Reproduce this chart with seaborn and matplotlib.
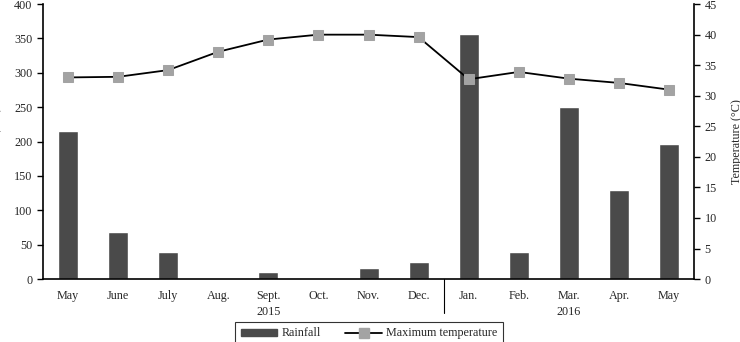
import matplotlib
matplotlib.use("Agg")
import matplotlib.pyplot as plt
import matplotlib.transforms as mtransforms
from matplotlib.patches import Patch
from matplotlib.lines import Line2D
import numpy as np
import pandas as pd
import seaborn as sns

# monthly data, May 2015 - May 2016
month_keys = ["May-15", "Jun-15", "Jul-15", "Aug-15", "Sep-15", "Oct-15", "Nov-15",
              "Dec-15", "Jan-16", "Feb-16", "Mar-16", "Apr-16", "May-16"]
month_labels = ["May", "June", "July", "Aug.", "Sept.", "Oct.", "Nov.", "Dec.",
                "Jan.", "Feb.", "Mar.", "Apr.", "May"]
rainfall = [215, 68, 40, 0, 10, 2, 16, 25, 357, 40, 250, 130, 197]
max_temp = [33.0, 33.1, 34.2, 37.2, 39.2, 40.0, 40.0, 39.6, 32.7, 33.9, 32.8, 32.1, 31.0]
years = ["2015", "2016"]
year_under = ["Sep-15", "Mar-16"]   # year label sits under these months

df = pd.DataFrame({"month": month_keys, "rain": rainfall, "temp": max_temp})

sns.set_style("white")
plt.rcParams["font.family"] = ["Liberation Serif", "DejaVu Serif"]
fs = 8.7

fig = plt.figure(figsize=(7.4, 3.42), dpi=100)
ax = fig.add_axes([0.058, 0.184, 0.88, 0.804])

bar_col = "#4a4a4a"
sns.barplot(data=df, x="month", y="rain", ax=ax, color=bar_col, saturation=1,
            width=0.4, order=month_keys)

ax2 = ax.twinx()
pos = np.arange(len(df))
sns.lineplot(x=pos, y=df["temp"], ax=ax2, color="black", linewidth=1.3,
             marker="s", markersize=7, markerfacecolor="#a3a3a3",
             markeredgecolor="#a3a3a3")

ax.set_xlim(-0.5, len(df) - 0.5)
ax2.set_xlim(-0.5, len(df) - 0.5)
ax.set_ylim(0, 400)
ax2.set_ylim(0, 45)
ax.set_yticks(range(0, 401, 50))
ax2.set_yticks(range(0, 46, 5))

# month labels at the centres, tick marks at the boundaries
ax.set_xticks(pos)
ax.set_xticklabels(month_labels)
ax.set_xticks(np.arange(-0.5, len(df), 1), minor=True)
ax.tick_params(axis="x", which="major", length=0, pad=8, labelsize=fs)
ax.tick_params(axis="x", which="minor", length=4, width=1, color="black", direction="out")
ax.tick_params(axis="y", length=4, width=1, color="black", direction="out", left=True, labelsize=fs)
ax2.tick_params(axis="y", length=4, width=1, color="black", direction="out", right=True, labelsize=fs)

for a in (ax, ax2):
    a.spines["top"].set_visible(False)
    for s in ("left", "right", "bottom"):
        a.spines[s].set_color("black")
        a.spines[s].set_linewidth(1.2)
ax.spines["right"].set_visible(False)
ax2.spines["left"].set_visible(False)
ax2.spines["bottom"].set_visible(False)

ax.set_xlabel("")
ax.set_ylabel("Rainfall (mm)", fontsize=fs)
ax.yaxis.set_label_coords(-0.064, 0.5)
ax2.set_ylabel("Temperature (°C)", fontsize=fs)
ax2.yaxis.set_label_coords(1.057, 0.5)

# year labels and the separator between the two years
trans = mtransforms.blended_transform_factory(ax.transData, ax.transAxes)
for yr, m in zip(years, year_under):
    ax.text(month_keys.index(m), -0.118, yr, transform=trans, ha="center", va="center", fontsize=fs)
sep = month_keys.index("Jan-16") - 0.5
ax.plot([sep, sep], [0, -0.125], transform=trans, color="black", linewidth=0.8, clip_on=False)

handles = [Patch(facecolor=bar_col, edgecolor=bar_col),
           Line2D([], [], color="black", linewidth=1.3, marker="s", markersize=7,
                  markerfacecolor="#a3a3a3", markeredgecolor="#a3a3a3")]
leg = fig.legend(handles, ["Rainfall", "Maximum temperature"], loc="upper center",
                 bbox_to_anchor=(0.499, 0.076), ncol=2, frameon=True, fancybox=False,
                 fontsize=fs, handlelength=3.0, handleheight=0.5, columnspacing=2.0,
                 borderpad=0.45, handletextpad=0.4)
leg.get_frame().set_edgecolor("black")
leg.get_frame().set_linewidth(0.8)

fig.savefig("out.png", dpi=100)
